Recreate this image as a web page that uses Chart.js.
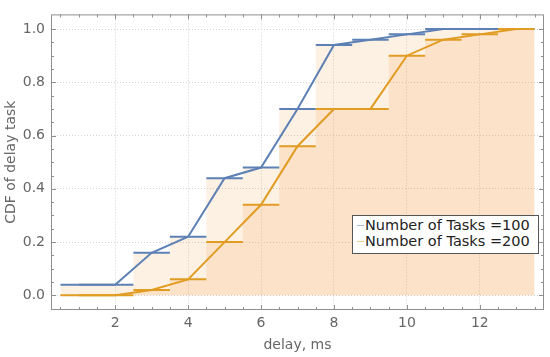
<!DOCTYPE html>
<html lang="en">

<head>
  <meta charset="UTF-8">
  <script src="https://cdn.jsdelivr.net/npm/chart.js"></script>
  <title>CDF of delay task</title>
  <style>
    body { margin: 0; background: #fff; }
    #wrap { position: relative; width: 550px; height: 357px; }
    #legend {
      position: absolute; left: 352px; top: 215px; width: 185px; height: 36px;
      border: 1px solid #555; background: #fff;
      font: 14.5px "DejaVu Sans", sans-serif; color: #222; line-height: 16px;
      padding-top: 1px; box-sizing: content-box;
    }
    #legend div { white-space: nowrap; }
    #legend span { display: inline-block; width: 7px; height: 1px; margin: 0 1px 4px 4px; }
  </style>
</head>

<body>
  <div id="wrap">
    <canvas id="chart" width="550" height="357"></canvas>
    <div id="legend">
      <div><span style="background:#a9bcdc"></span>Number of Tasks =100</div>
      <div><span style="background:#f0cb8e"></span>Number of Tasks =200</div>
    </div>
  </div>

<script>
  // delay (ms) and CDF values
  const delays = [1, 2, 3, 4, 5, 6, 7, 8, 9, 10, 11, 12, 13]
  const tasks100 = [0.04, 0.04, 0.16, 0.22, 0.44, 0.48, 0.70, 0.94, 0.96, 0.98, 1.0, 1.0, 1.0]
  const tasks200 = [0, 0, 0.02, 0.06, 0.20, 0.34, 0.56, 0.70, 0.70, 0.90, 0.96, 0.98, 1.0]

  const xTicks = [2, 4, 6, 8, 10, 12]
  const yTicks = [0, 0.2, 0.4, 0.6, 0.8, 1.0]

  const blue = '#5e81b5'
  const orange = '#e19c24'

  const points = vals => delays.map((d, i) => ({ x: d, y: vals[i] }))
  const bars = vals => delays.flatMap((d, i) => [
    { x: d - 0.5, y: vals[i] }, { x: d + 0.5, y: vals[i] }, { x: d + 0.5, y: null }
  ])
  const steps = vals => delays.flatMap((d, i) => [{ x: d - 0.5, y: vals[i] }, { x: d + 0.5, y: vals[i] }])

  const lineDs = (data, color) => ({
    data, borderColor: color, borderWidth: 2, pointRadius: 0, fill: false, spanGaps: false
  })
  const fillDs = (data, color) => ({
    data, borderWidth: 0, borderColor: 'transparent', backgroundColor: color, pointRadius: 0, fill: 'origin'
  })

  // frame with inward ticks, drawn like the original
  const framePlugin = {
    id: 'frame',
    afterDraw(chart) {
      const { ctx, chartArea: a, scales: { x, y } } = chart
      ctx.save()
      ctx.strokeStyle = '#8f8f8f'
      ctx.lineWidth = 1
      ctx.strokeRect(a.left + 0.5, a.top + 0.5, a.right - a.left - 1, a.bottom - a.top - 1)
      ctx.beginPath()
      for (let v = 0.5; v <= 13.5; v += 0.5) {
        const px = Math.round(x.getPixelForValue(v)) + 0.5
        const len = v % 2 === 0 ? 5 : 3
        ctx.moveTo(px, a.bottom); ctx.lineTo(px, a.bottom - len)
        ctx.moveTo(px, a.top); ctx.lineTo(px, a.top + len)
      }
      for (let i = 0; i <= 20; i++) {
        const v = i * 0.05
        const py = Math.round(y.getPixelForValue(v)) + 0.5
        const len = i % 4 === 0 ? 5 : 3
        ctx.moveTo(a.left, py); ctx.lineTo(a.left + len, py)
        ctx.moveTo(a.right, py); ctx.lineTo(a.right - len, py)
      }
      ctx.stroke()
      ctx.restore()
    }
  }

  const font = { family: '"DejaVu Sans", sans-serif', size: 14 }

  new Chart(document.getElementById('chart'), {
    type: 'line',
    data: {
      datasets: [
        lineDs(points(tasks200), orange),
        lineDs(bars(tasks200), orange),
        lineDs(points(tasks100), blue),
        lineDs(bars(tasks100), blue),
        fillDs(steps(tasks200), 'rgba(240,150,50,0.16)'),
        fillDs(steps(tasks100), 'rgba(240,150,50,0.13)')
      ]
    },
    options: {
      responsive: false,
      animation: false,
      layout: { padding: { top: 5, right: 6, left: 0, bottom: 0 } },
      plugins: { legend: { display: false }, tooltip: { enabled: false } },
      scales: {
        x: {
          type: 'linear', min: 0.24, max: 13.76,
          afterBuildTicks: s => { s.ticks = xTicks.map(v => ({ value: v })) },
          afterFit: s => { s.height = 47 },
          ticks: { font, color: '#666', padding: 5 },
          grid: { color: '#d4d4d4', drawTicks: false },
          border: { display: false, dash: [1, 2] },
          title: { display: true, text: 'delay, ms', font, color: '#666', padding: { top: 0, bottom: 3 } }
        },
        y: {
          type: 'linear', min: -0.055, max: 1.055,
          afterBuildTicks: s => { s.ticks = yTicks.map(v => ({ value: v })) },
          afterFit: s => { s.width = 51 },
          ticks: { font, color: '#666', padding: 6, callback: v => v.toFixed(1) },
          grid: { color: '#d4d4d4', drawTicks: false },
          border: { display: false, dash: [1, 2] },
          title: { display: true, text: 'CDF of delay task', font, color: '#666', padding: { top: 3, bottom: 0 } }
        }
      }
    },
    plugins: [framePlugin]
  })
</script>
</body>

</html>
